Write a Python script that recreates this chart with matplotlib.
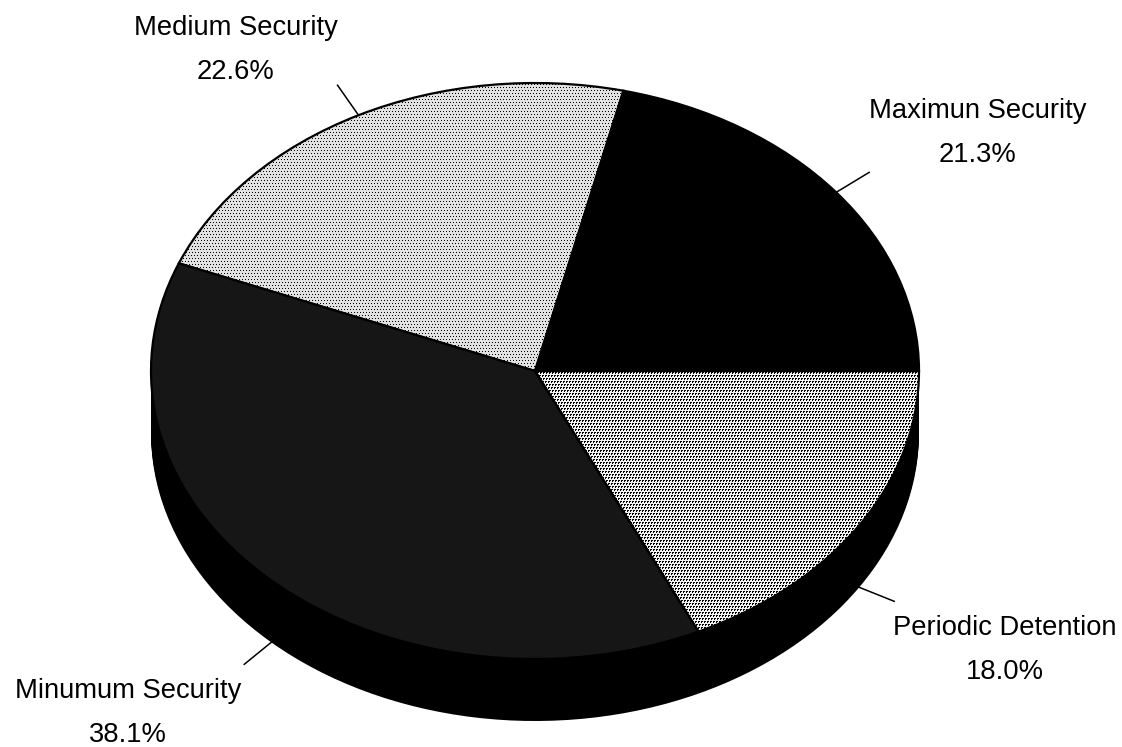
import numpy as np
import matplotlib.pyplot as plt
from matplotlib.transforms import Affine2D

labels = ["Maximun Security", "Medium Security", "Minumum Security", "Periodic Detention"]
shares = [21.3, 22.6, 38.1, 18.0]
colors = ["#000000", "none", "#161616", "none"]

plt.rcParams["font.family"] = ["Liberation Sans", "DejaVu Sans"]

W, H = 1122, 747
fig = plt.figure(figsize=(W / 100, H / 100), dpi=100)
ax = fig.add_axes([0, 0, 1, 1])

cx, cy = 535, 371
rx, ry = 384, 288
depth = 62


def squash(d=0):
    # unit pie -> tilted ellipse in pixels
    return Affine2D().scale(rx, ry).translate(cx, H - cy - d) + ax.transData


def screen(bg, wide):
    # scanned halftone, a staggered dot every 3 px
    yy, xx = np.mgrid[0:H, 0:W]
    xx = xx + 1 * (yy % 6 >= 3)
    dots = (yy % 3 == 0) & (xx % 3 == 0)
    if wide:
        dots = dots | ((yy % 3 == 0) & (xx % 3 == 1)) | ((yy % 3 == 1) & (xx % 3 == 0))
    return np.where(dots, 0.0, bg)


for d in range(depth, 0, -2):
    w, _ = ax.pie(shares, startangle=0, colors=["black"] * 4, frame=False, wedgeprops=dict(linewidth=0))
    for p in w:
        p.set_transform(squash(d))
        p.set_zorder(0.1)

wedges, _ = ax.pie(shares, startangle=0, colors=["white"] * 4, frame=False,
                   wedgeprops=dict(linewidth=1.6, edgecolor="black"))
for p, c in zip(wedges, colors):
    p.set_transform(squash())
    p.set_facecolor(c)

for p, pat in [(wedges[1], screen(0.88, False)), (wedges[3], screen(0.95, True))]:
    im = ax.imshow(pat, cmap="gray", vmin=0, vmax=1, extent=(0, W, 0, H), interpolation="nearest", zorder=0.5)
    im.set_clip_path(p)

ax.set_xlim(0, W)
ax.set_ylim(0, H)
ax.set_aspect("auto")
ax.axis("off")

# leaders start on the rim at each slice's middle angle
mids = 360 * (np.cumsum(shares) - np.array(shares) / 2) / sum(shares)
leader_out = [(33, 20), (-21, 30), (-27, -22), (35, -14)]
label_x = [978, 236, 128, 1005]
label_base = [118, 35, 698, 635]
for name, s, m, (ox, oy), x, y in zip(labels, shares, mids, leader_out, label_x, label_base):
    a = np.radians(m)
    px = cx + rx * np.cos(a)
    py = H - cy + ry * np.sin(a)
    if np.sin(a) < 0:
        py -= depth
    ax.plot([px, px + ox], [py, py + oy], color="black", lw=1.1)
    ax.text(x, H - y, name, ha="center", va="baseline", fontsize=19.7)
    ax.text(x, H - y - 44, "{:.1f}%".format(s), ha="center", va="baseline", fontsize=19.7)

fig.savefig("out.png", dpi=100)
